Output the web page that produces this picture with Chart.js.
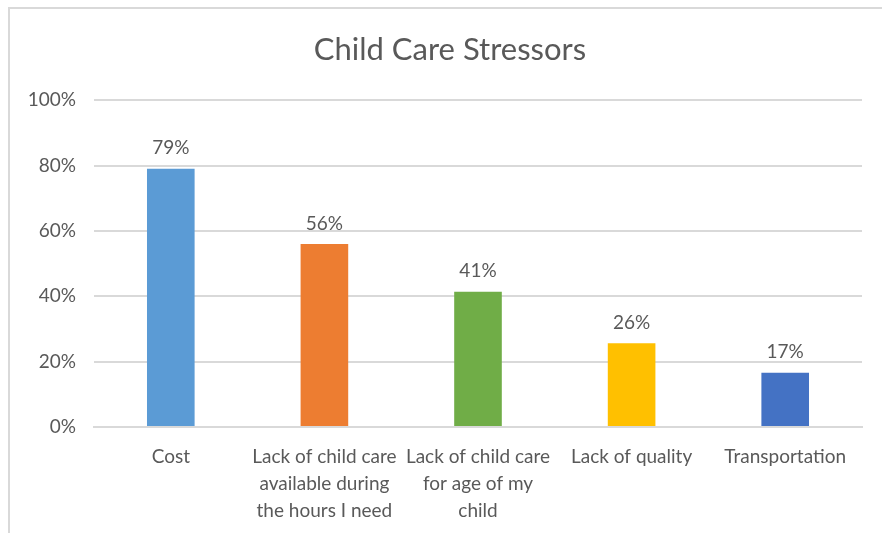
<!DOCTYPE html>
<html>
<head>
<meta charset="utf-8">
<script src="https://cdn.jsdelivr.net/npm/chart.js@4"></script>
<style>
  html, body { margin: 0; padding: 0; background: #fff; overflow: hidden; }
  .frame {
    position: absolute; left: 8px; top: 7px; width: 890px; height: 540px;
    border-top: 2px solid #d9d9d9; border-left: 2px solid #d9d9d9;
  }
  .wrap { position: absolute; left: 10px; top: 9px; width: 880px; height: 524px; }
</style>
</head>
<body>
<div class="frame"></div>
<div class="wrap"><canvas id="stressChart"></canvas></div>
<script>
// Child Care Stressors
const categories = [
    'Cost',
    ['Lack of child care', 'available during', 'the hours I need'],
    ['Lack of child care', 'for age of my', 'child'],
    'Lack of quality',
    'Transportation'
];
const shares = [79, 56, 41.4, 25.6, 16.6];
const barColors = ['#5B9BD5', '#ED7D31', '#70AD47', '#FFC000', '#4472C4'];
const yTicks = [0, 20, 40, 60, 80, 100];

const fontFamily = 'Lato, "Open Sans", sans-serif';
const textColor = '#595959';

// draws the value labels above each bar
const barLabels = {
    id: 'barLabels',
    afterDatasetsDraw(chart) {
        const ctx = chart.ctx;
        const meta = chart.getDatasetMeta(0);
        ctx.save();
        ctx.font = '19px ' + fontFamily;
        ctx.fillStyle = textColor;
        ctx.textAlign = 'center';
        ctx.textBaseline = 'bottom';
        meta.data.forEach((bar, i) => {
            ctx.fillText(Math.round(shares[i]) + '%', bar.x, bar.y - 11);
        });
        ctx.restore();
    }
};

const ctx = document.getElementById('stressChart').getContext('2d');
new Chart(ctx, {
    type: 'bar',
    data: {
        labels: categories,
        datasets: [{
            data: shares,
            backgroundColor: barColors,
            barPercentage: 0.31,
            categoryPercentage: 1
        }]
    },
    options: {
        responsive: true,
        maintainAspectRatio: false,
        animation: false,
        layout: { padding: 0 },
        plugins: {
            legend: { display: false },
            tooltip: { enabled: false },
            title: {
                display: true,
                text: 'Child Care Stressors',
                color: textColor,
                font: { family: fontFamily, size: 31, weight: 'normal' },
                padding: { top: 22, bottom: 32 }
            }
        },
        scales: {
            x: {
                afterFit(axis) { axis.height = 106; },
                grid: { display: false, drawTicks: false },
                border: { color: '#d9d9d9', width: 2 },
                ticks: {
                    color: textColor,
                    font: { family: fontFamily, size: 19, lineHeight: 1.42 },
                    maxRotation: 0,
                    autoSkip: false,
                    padding: 16
                }
            },
            y: {
                min: 0,
                max: 100,
                afterBuildTicks(axis) {
                    axis.ticks = yTicks.map(v => ({ value: v }));
                },
                afterFit(axis) { axis.width = 84; },
                grid: { color: '#d9d9d9', lineWidth: 2, drawTicks: false },
                border: { display: false },
                ticks: {
                    color: textColor,
                    font: { family: fontFamily, size: 19 },
                    padding: 18,
                    callback: v => v + '%'
                }
            },
            // empty right margin so the plot ends where the original does
            spacer: {
                type: 'linear',
                position: 'right',
                afterFit(axis) { axis.width = 28; },
                grid: { display: false },
                border: { display: false },
                ticks: { display: false }
            }
        }
    },
    plugins: [barLabels]
});
</script>
</body>
</html>
